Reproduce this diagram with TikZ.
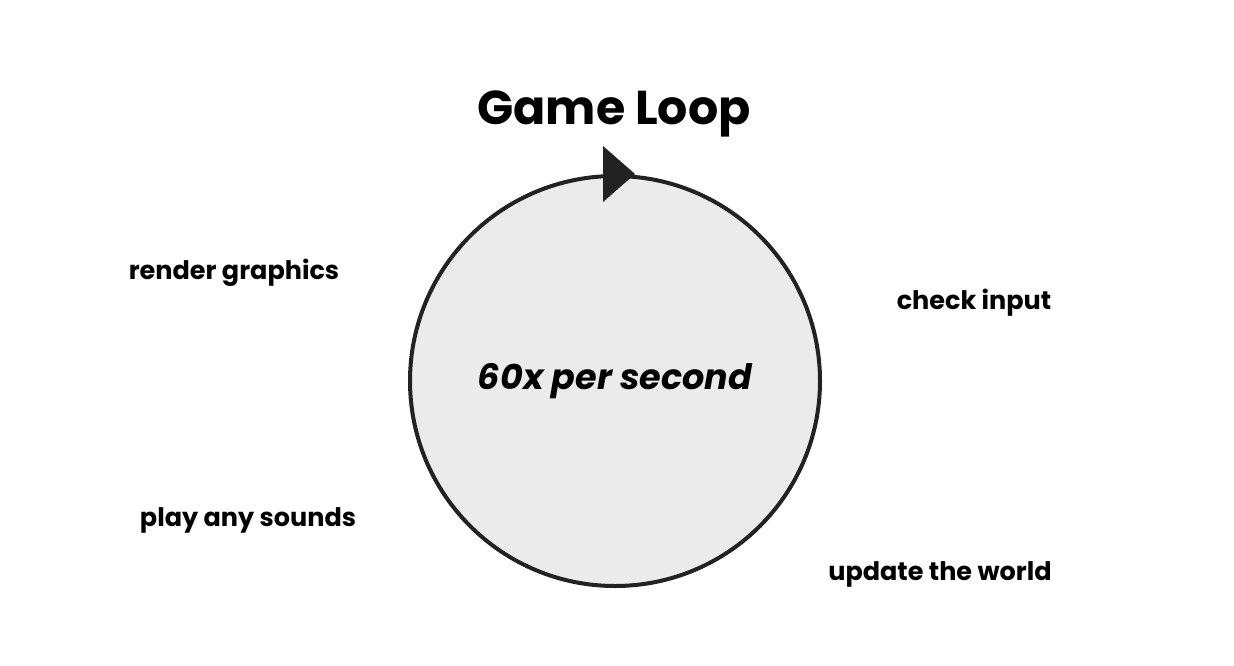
\documentclass[tikz,border=0pt]{standalone}
\usepackage{fontspec}
\setmainfont{Poppins}
\definecolor{loopgray}{HTML}{EBEBEB}
\definecolor{loopline}{HTML}{222222}
\tikzstyle{titel} = [font=\bfseries\fontsize{47.5}{52}\selectfont, inner sep=0pt]
\tikzstyle{lus} = [circle, draw=loopline, fill=loopgray, line width=4pt, minimum size=410pt, inner sep=0pt, font=\bfseries\itshape\fontsize{35}{40}\selectfont]
\tikzstyle{taak} = [font=\bfseries\fontsize{25.5}{30}\selectfont, inner sep=0pt]
\tikzstyle{pijl} = [fill=loopline]

\begin{document}
\begin{tikzpicture}[x=1pt, y=-1pt]
\useasboundingbox (0,0) rectangle (1234,665);
%titel
\node[titel] (titel) at (614,114) {Game Loop};
%cirkel
\node[lus] (lus) at (615,381) {60x per second};
%pijlpunt
\fill[pijl] ([xshift=-12pt, yshift=28pt]lus.north) -- ([xshift=-12pt, yshift=-28pt]lus.north)
    -- ([xshift=20pt]lus.north) -- cycle;
%taken
\node[taak] (render) at (234,273) {render graphics};
\node[taak] (input) at (974,303) {check input};
\node[taak] (geluid) at (248,520) {play any sounds};
\node[taak] (update) at (940,574) {update the world};
\end{tikzpicture}
\end{document}
